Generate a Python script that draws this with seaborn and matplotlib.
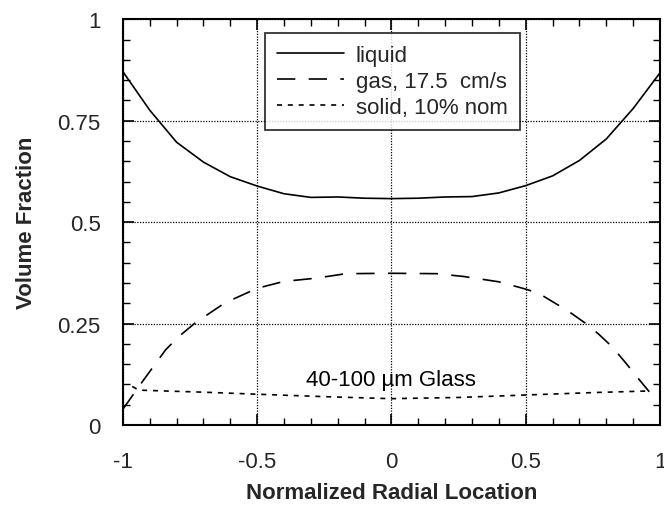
import numpy as np
import pandas as pd
import matplotlib
matplotlib.use("Agg")
import matplotlib.pyplot as plt
import seaborn as sns
from matplotlib.ticker import MultipleLocator

# values
liquid_x = [-1.0, -0.9, -0.8, -0.7, -0.6, -0.5, -0.4, -0.3, -0.2, -0.1, 0.0,
            0.1, 0.2, 0.3, 0.4, 0.5, 0.6, 0.7, 0.8, 0.9, 1.0]
liquid_y = [0.871, 0.776, 0.697, 0.648, 0.612, 0.589, 0.570, 0.561, 0.562, 0.559, 0.558,
            0.559, 0.562, 0.563, 0.572, 0.590, 0.614, 0.652, 0.705, 0.780, 0.868]

gas_x = [-1.0, -0.925, -0.84, -0.79, -0.73, -0.62, -0.5, -0.4, -0.28, -0.17, 0.0,
         0.17, 0.27, 0.4, 0.5, 0.55, 0.66, 0.72, 0.77, 0.82, 0.87, 0.915, 0.96]
gas_y = [0.039, 0.109, 0.186, 0.219, 0.252, 0.301, 0.337, 0.354, 0.362, 0.373, 0.374,
         0.373, 0.366, 0.353, 0.335, 0.324, 0.280, 0.252, 0.225, 0.194, 0.155, 0.118, 0.082]

solid_x = [-0.965, -0.94, -0.7, -0.5, -0.25, 0.0, 0.25, 0.5, 0.75, 0.96]
solid_y = [0.095, 0.086, 0.081, 0.076, 0.070, 0.065, 0.068, 0.074, 0.080, 0.084]

series_names = ["liquid", "gas, 17.5  cm/s", "solid, 10% nom"]
x_ticks = [-1, -0.5, 0, 0.5, 1]
x_ticklabels = ["-1", "-0.5", "0", "0.5", "1"]
y_ticks = [0, 0.25, 0.5, 0.75, 1]
y_ticklabels = ["0", "0.25", "0.5", "0.75", "1"]

df = pd.concat([
    pd.DataFrame({"x": liquid_x, "y": liquid_y, "series": series_names[0]}),
    pd.DataFrame({"x": gas_x, "y": gas_y, "series": series_names[1]}),
    pd.DataFrame({"x": solid_x, "y": solid_y, "series": series_names[2]}),
])

sns.set_theme(style="white")
plt.rcParams['font.family'] = ['Liberation Sans', 'DejaVu Sans']

fig = plt.figure(figsize=(6.64, 5.06), dpi=100)
ax = fig.add_axes([0.185, 0.158, 0.809, 0.802])

dash_map = {series_names[0]: "", series_names[1]: (11, 8), series_names[2]: (3, 3.5)}
sns.lineplot(data=df, x="x", y="y", style="series", dashes=dash_map,
             color="black", linewidth=1.2, sort=False, estimator=None,
             ax=ax, legend=True)

ax.set_xlim(-1, 1)
ax.set_ylim(0, 1)
ax.set_xticks(x_ticks)
ax.set_xticklabels(x_ticklabels)
ax.set_yticks(y_ticks)
ax.set_yticklabels(y_ticklabels)
ax.xaxis.set_minor_locator(MultipleLocator(0.1))
ax.yaxis.set_minor_locator(MultipleLocator(0.05))
ax.tick_params(which="both", direction="in", top=True, right=True,
               bottom=True, left=True, color="black", labelsize=16)
ax.tick_params(axis="x", which="major", pad=19)
ax.tick_params(axis="y", which="major", pad=16)
ax.tick_params(which="major", length=8, width=1.2)
ax.tick_params(which="minor", length=5, width=1.0)
ax.grid(True, which="major", color="black", linestyle=(0, (1, 1.2)), linewidth=0.9)
for s in ax.spines.values():
    s.set_color("black")
    s.set_linewidth(1.5)

ax.set_xlabel("Normalized Radial Location", fontsize=16, fontweight="bold", labelpad=7)
ax.set_ylabel("Volume Fraction", fontsize=16, fontweight="bold", labelpad=15)

ax.text(0.0, 0.113, "40-100 µm Glass", fontsize=16, ha="center", va="center",
        color="black")

leg = ax.legend(loc="upper left", bbox_to_anchor=(0.264, 0.967), fontsize=16,
                frameon=True, fancybox=False, handlelength=3.0,
                borderpad=0.55, labelspacing=0.22, handletextpad=0.55,
                borderaxespad=0)
leg.get_frame().set_edgecolor("black")
leg.get_frame().set_linewidth(1.3)
leg.set_title(None)

fig.savefig("out.png", dpi=100)
